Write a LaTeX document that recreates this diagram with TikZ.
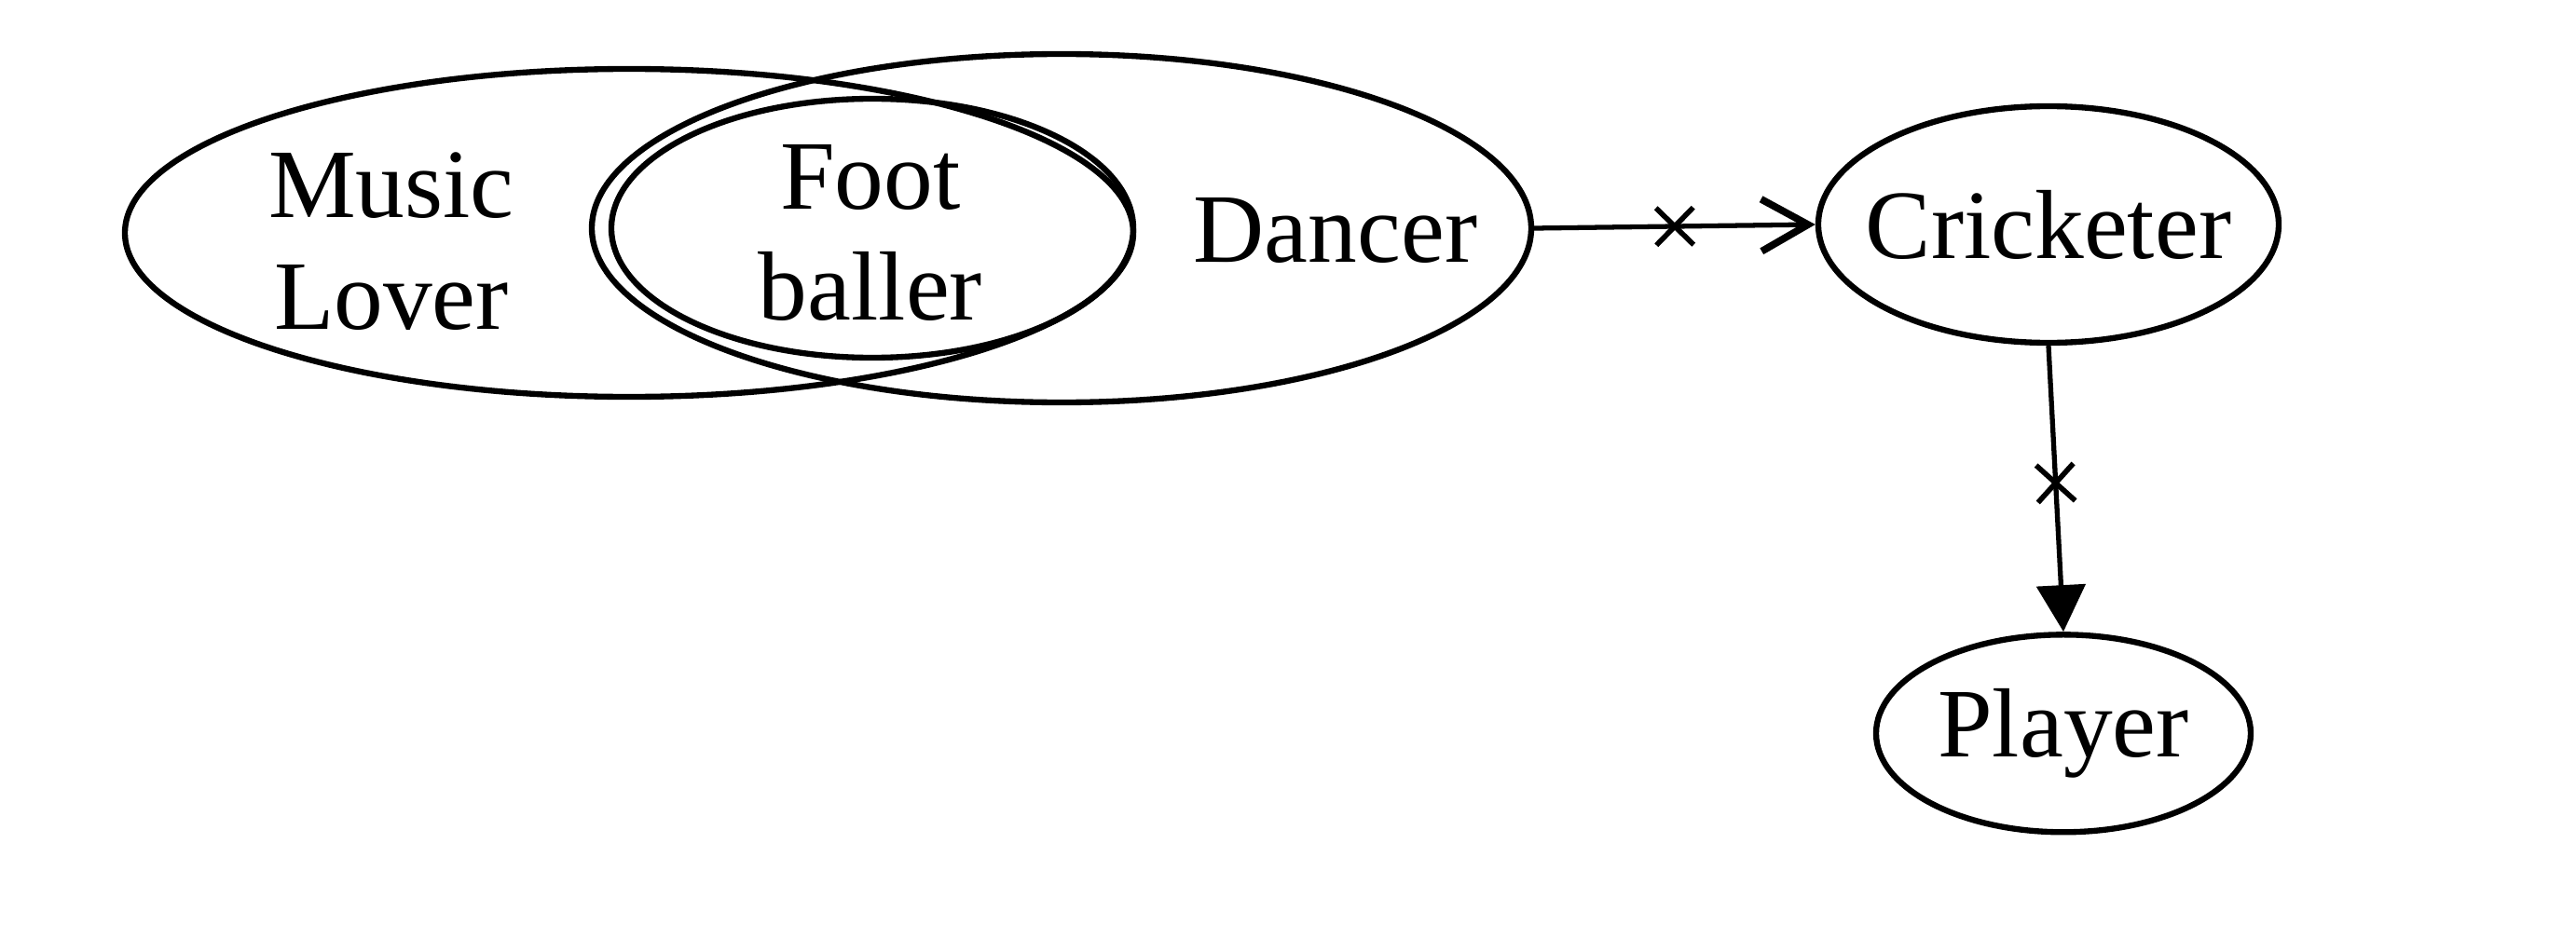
\documentclass[tikz,border=0pt]{standalone}
\usepackage{fontspec}
\setmainfont{Liberation Serif}
\usetikzlibrary{shapes.geometric}
\usetikzlibrary{arrows.meta}
\usetikzlibrary{positioning}
\usetikzlibrary{decorations.markings}
\tikzset{el/.style={draw,ellipse,line width=1.8pt,inner sep=0pt}}
\tikzset{tx/.style={font=\fontsize{30}{34}\selectfont,align=center,inner sep=0pt}}
\tikzset{xm/.style={postaction={decorate},decoration={markings,mark=at position #1 with {\draw[-,line width=1.6pt] (-0.2,-0.2) -- (0.2,0.2) (-0.2,0.2) -- (0.2,-0.2);}}}}

\begin{document}
\begin{tikzpicture}
\useasboundingbox (0,0) rectangle (27.64,9.92);
% sets
\node [el, minimum width=10.82cm, minimum height=3.52cm] (ml) at (6.75,7.42) {};
\node [el, minimum width=10.08cm, minimum height=3.74cm] (dn) at (11.39,7.47) {};
\node [el, minimum width=5.6cm, minimum height=2.78cm] (fb) at (9.36,7.47) {};
\node [tx] (mlt) at (4.20,7.33) {Music\\Lover};
\node [tx] (fbt) at (9.34,7.42) {Foot\\baller};
\node [tx] (dnt) at (14.33,7.45) {Dancer};

\node [el, minimum width=4.94cm, minimum height=2.54cm] (cr) at (21.98,7.51) {};
\node [tx] (crt) at (cr.center) {Cricketer};
\node [el, minimum width=4.02cm, minimum height=2.12cm, below=3.07cm of cr, xshift=0.16cm] (pl) {};
\node [tx] (plt) at (pl.center) {Player};

\draw [line width=1.5pt, -{Straight Barb[length=0.5cm,width=0.56cm,line width=2.2pt]}, xm=0.5] (dn.east) -- (cr.west);
\draw [line width=1.5pt, -{Triangle[length=0.5cm,width=0.52cm]}, xm=0.48] (cr.south) -- (pl.north);
\end{tikzpicture}
\end{document}
